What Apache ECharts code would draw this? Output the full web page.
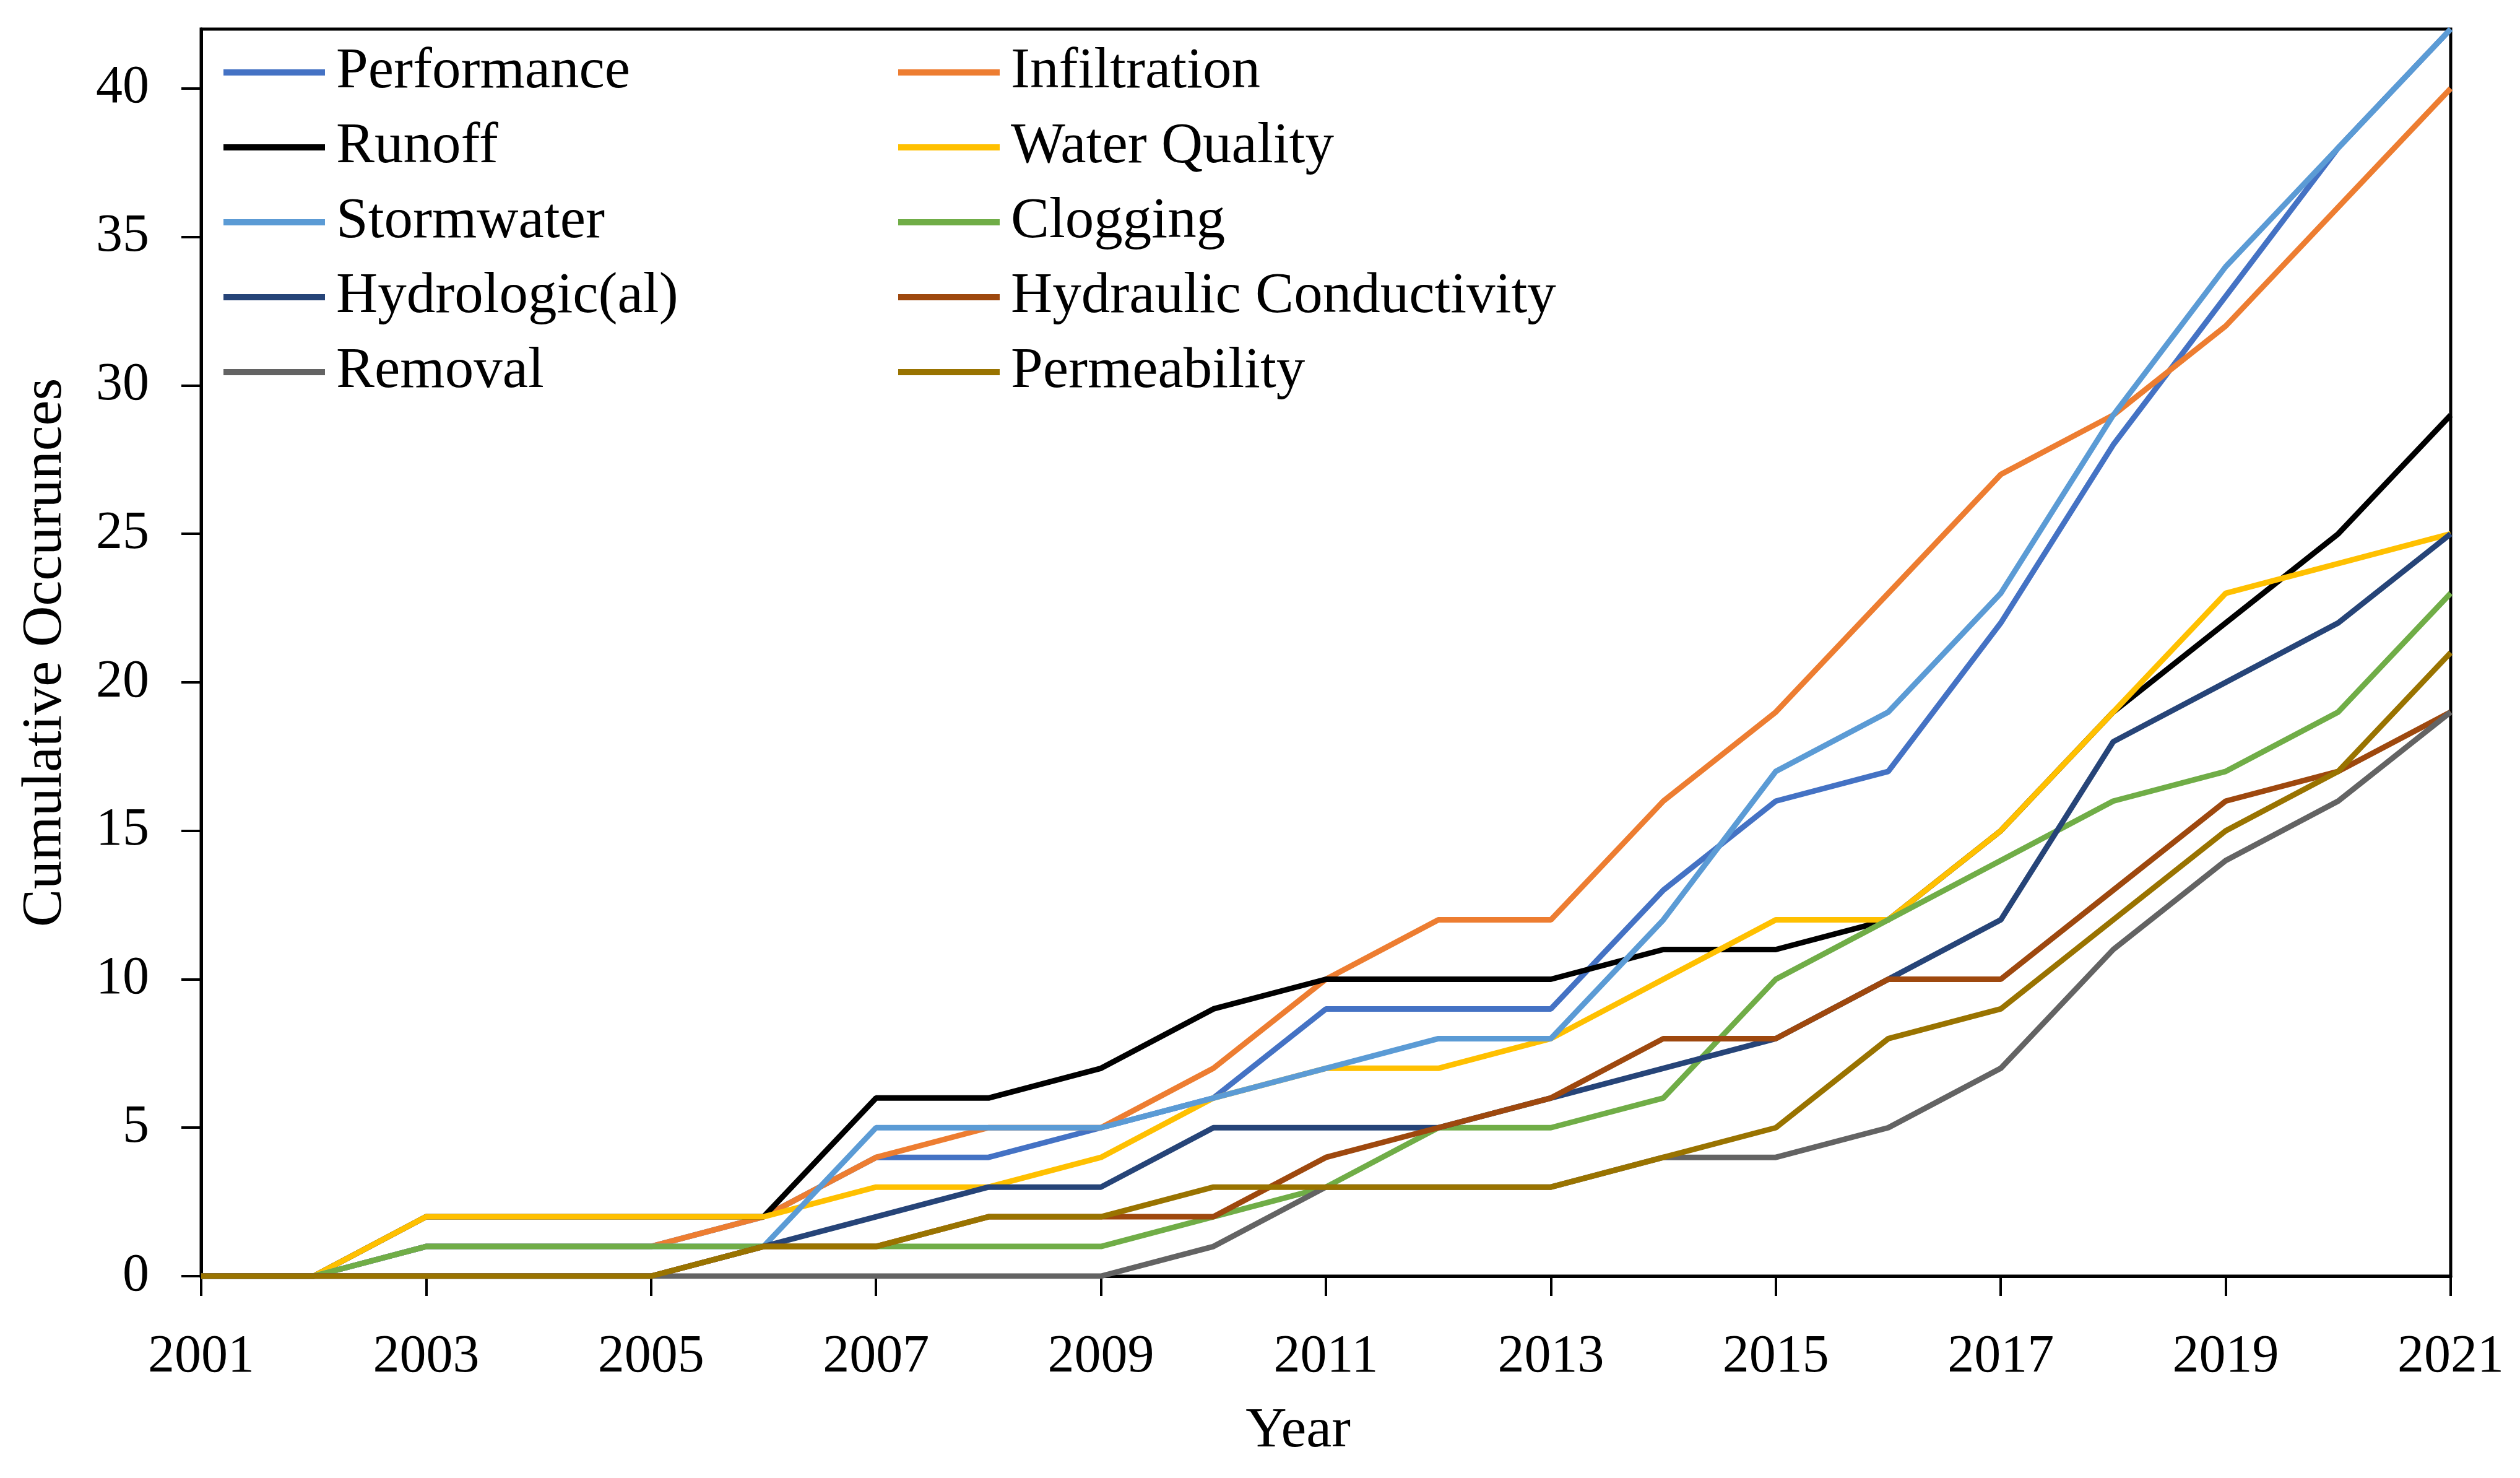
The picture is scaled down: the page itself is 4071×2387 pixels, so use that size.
<!DOCTYPE html>
<html>
<head>
<meta charset="utf-8">
<script src="https://cdn.jsdelivr.net/npm/echarts@6/dist/echarts.min.js"></script>
<style>html,body{margin:0;padding:0;background:#fff;}#c{width:4071px;height:2387px;}</style>
</head>
<body>
<div id="c"></div>
<script>
const years = ['2001','2002','2003','2004','2005','2006','2007','2008','2009','2010','2011','2012','2013','2014','2015','2016','2017','2018','2019','2020','2021'];
const yTicks = [0,5,10,15,20,25,30,35,40];

const performance   = [0,0,1,1,1,2,4,4,5,6,9,9,9,13,16,17,22,28,33,38,42];
const infiltration  = [0,0,1,1,1,2,4,5,5,7,10,12,12,16,19,23,27,29,32,36,40];
const runoff        = [0,0,2,2,2,2,6,6,7,9,10,10,10,11,11,12,15,19,22,25,29];
const waterQuality  = [0,0,2,2,2,2,3,3,4,6,7,7,8,10,12,12,15,19,23,24,25];
const stormwater    = [0,0,1,1,1,1,5,5,5,6,7,8,8,12,17,19,23,29,34,38,42];
const clogging      = [0,0,1,1,1,1,1,1,1,2,3,5,5,6,10,12,14,16,17,19,23];
const hydrologic    = [0,0,0,0,0,1,2,3,3,5,5,5,6,7,8,10,12,18,20,22,25];
const hydraulicCond = [0,0,0,0,0,1,1,2,2,2,4,5,6,8,8,10,10,13,16,17,19];
const removal       = [0,0,0,0,0,0,0,0,0,1,3,3,3,4,4,5,7,11,14,16,19];
const permeability  = [0,0,0,0,0,1,1,2,2,3,3,3,3,4,5,8,9,12,15,17,21];

const names = ['Performance','Infiltration','Runoff','Water Quality','Stormwater','Clogging','Hydrologic(al)','Hydraulic Conductivity','Removal','Permeability'];
const values = [performance, infiltration, runoff, waterQuality, stormwater, clogging, hydrologic, hydraulicCond, removal, permeability];
const colors = ['#4472C4','#ED7D31','#000000','#FFC000','#5B9BD5','#70AD47','#264478','#9E480E','#636363','#997300'];

const FONT = 'Liberation Serif';
const chart = echarts.init(document.getElementById('c'));

const legendCommon = {
  orient: 'vertical',
  top: 62,
  itemWidth: 164,
  itemHeight: 10,
  itemGap: 21,
  icon: 'rect',
  textStyle: { fontFamily: FONT, fontSize: 93, color: '#000', lineHeight: 100, padding: [0,0,0,13] }
};

chart.setOption({
  animation: false,
  backgroundColor: '#fff',
  grid: { left: 325, right: 112, top: 47, bottom: 326, show: true, borderColor: '#000', borderWidth: 5, containLabel: false },
  legend: [
    Object.assign({}, legendCommon, { left: 356, data: [names[0], names[2], names[4], names[6], names[8]] }),
    Object.assign({}, legendCommon, { left: 1446, data: [names[1], names[3], names[5], names[7], names[9]] })
  ],
  xAxis: {
    type: 'category',
    data: years,
    boundaryGap: false,
    name: 'Year',
    nameLocation: 'middle',
    nameGap: 205,
    nameTextStyle: { fontFamily: FONT, fontSize: 92, color: '#000', padding: [0, 90, 0, 0] },
    axisLine: { lineStyle: { color: '#000', width: 5 } },
    axisTick: { interval: 1, length: 32, lineStyle: { color: '#000', width: 4 } },
    axisLabel: { interval: 1, margin: 88, fontFamily: FONT, fontSize: 86, color: '#000' },
    splitLine: { show: false }
  },
  yAxis: {
    type: 'value',
    min: 0,
    max: 42,
    name: 'Cumulative Occurunces',
    nameLocation: 'middle',
    nameGap: 205,
    nameTextStyle: { fontFamily: FONT, fontSize: 92, color: '#000' },
    axisLine: { show: true, lineStyle: { color: '#000', width: 5 } },
    axisTick: { show: true, customValues: yTicks, length: 32, lineStyle: { color: '#000', width: 4 } },
    axisLabel: { customValues: yTicks, margin: 84, fontFamily: FONT, fontSize: 86, color: '#000' },
    splitLine: { show: false }
  },
  series: names.map((n, i) => ({
    name: n,
    type: 'line',
    data: values[i],
    symbol: 'none',
    showSymbol: false,
    color: colors[i],
    lineStyle: { color: colors[i], width: 9 },
    z: 2 + i
  }))
});
</script>
</body>
</html>
